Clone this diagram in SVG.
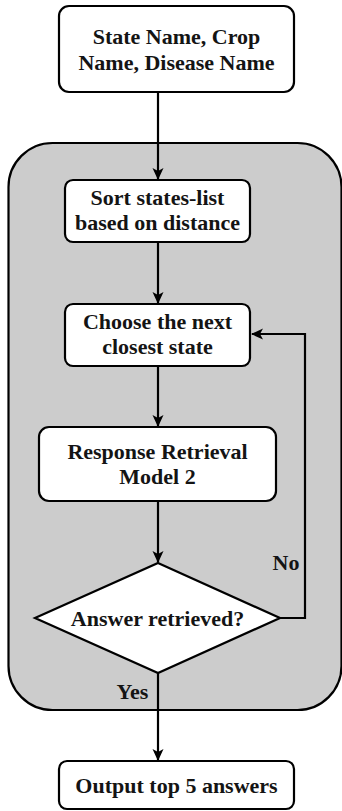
<svg xmlns="http://www.w3.org/2000/svg" width="342" height="811" viewBox="0 0 342 811">
  <style>
    .box { fill: #ffffff; stroke: #000000; stroke-width: 2.2; }
    .lbl { font-weight: 700; font-size: 22px; fill: #141414; text-anchor: middle; }
    .edge { fill: none; stroke: #000000; stroke-width: 2.2; }
  </style>
  <defs>
    <marker id="arrow" viewBox="0 0 12 12" refX="11" refY="6" markerWidth="12" markerHeight="12" markerUnits="userSpaceOnUse" orient="auto">
      <path d="M0,0.5 L12,6 L0,11.5 L3,6 Z" fill="#000000"/>
    </marker>
  </defs>

  <!-- loop container -->
  <g id="loop-region">
    <rect x="8.5" y="143" width="333" height="567" rx="44" ry="44" fill="#cccccc" stroke="#000000" stroke-width="2.2"/>
  </g>

  <g font-family="Liberation Serif, serif">
  <g id="connectors">
    <path class="edge" d="M158,92 V179" marker-end="url(#arrow)"/>
    <path class="edge" d="M158,242 V303" marker-end="url(#arrow)"/>
    <path class="edge" d="M158,366 V426" marker-end="url(#arrow)"/>
    <path class="edge" d="M158,501 V562" marker-end="url(#arrow)"/>
    <path class="edge" d="M280,618 H305 V334 H252" marker-end="url(#arrow)"/>
    <path class="edge" d="M158,673 V760" marker-end="url(#arrow)"/>
    <text class="lbl" x="286" y="570">No</text>
    <text class="lbl" x="132.5" y="699">Yes</text>
  </g>

  <g id="input">
    <rect class="box" x="59" y="6" width="235" height="86" rx="10"/>
    <text class="lbl" x="176.5" y="44">State Name, Crop</text>
    <text class="lbl" x="176.5" y="70">Name, Disease Name</text>
  </g>

  <g id="sort-states">
    <rect class="box" x="65" y="180" width="185" height="62" rx="8"/>
    <text class="lbl" x="157.5" y="205">Sort states-list</text>
    <text class="lbl" x="157.5" y="230">based on distance</text>
  </g>

  <g id="choose-state">
    <rect class="box" x="65" y="304" width="185" height="62" rx="8"/>
    <text class="lbl" x="157.5" y="329">Choose the next</text>
    <text class="lbl" x="157.5" y="354">closest state</text>
  </g>

  <g id="retrieval-model">
    <rect class="box" x="39" y="427" width="237" height="74" rx="10"/>
    <text class="lbl" x="157.5" y="459">Response Retrieval</text>
    <text class="lbl" x="157.5" y="484">Model 2</text>
  </g>

  <g id="answer-check">
    <polygon class="box" points="158,563 280,618 158,673 35,618"/>
    <text class="lbl" x="157.5" y="626">Answer retrieved?</text>
  </g>

  <g id="output">
    <rect class="box" x="59" y="761" width="235" height="48" rx="8"/>
    <text class="lbl" x="176.5" y="793">Output top 5 answers</text>
  </g>
  </g>
</svg>
